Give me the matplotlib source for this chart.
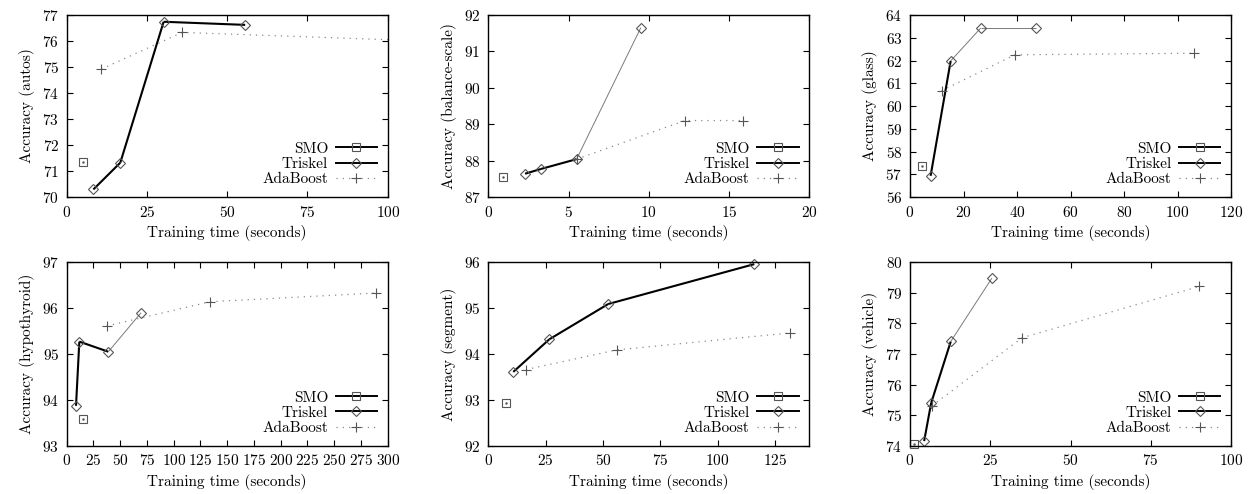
import matplotlib
matplotlib.use("Agg")
import matplotlib.pyplot as plt
from matplotlib.lines import Line2D
import numpy as np

plt.rcParams.update({
    'font.family': 'cmr10',
    'mathtext.fontset': 'cm',
    'axes.formatter.use_mathtext': True,
    'font.size': 11,
    'axes.linewidth': 1.0,
    'xtick.direction': 'in',
    'ytick.direction': 'in',
    'xtick.top': True,
    'ytick.right': True,
    'xtick.major.size': 4.5,
    'ytick.major.size': 4.5,
    'xtick.major.pad': 5.5,
    'ytick.major.pad': 5.5,
})

# dataset names
datasets = ['autos', 'balance-scale', 'glass', 'hypothyroid', 'segment', 'vehicle']

# SMO: single point (time, accuracy)
smo_time = [5.0, 0.93, 4.4, 15.5, 7.7, 1.35]
smo_acc = [71.35, 87.56, 57.37, 93.58, 92.94, 74.06]

# Triskel curves
tri_time = [
    [8.3, 16.7, 30.2, 55.6],
    [2.29, 3.28, 5.5, 9.5],
    [7.7, 15.2, 26.4, 47.0],
    [8.7, 11.8, 38.9, 69.5],
    [10.9, 26.6, 52.3, 116.0],
    [4.4, 6.6, 12.7, 25.5],
]
tri_acc = [
    [70.29, 71.32, 76.74, 76.62],
    [87.64, 87.77, 88.04, 91.65],
    [56.93, 61.98, 63.42, 63.42],
    [93.87, 95.27, 95.05, 95.90],
    [93.61, 94.32, 95.09, 95.96],
    [74.15, 75.40, 77.41, 79.48],
]
# which Triskel segments are drawn bold
tri_bold = [
    [True, True, True],
    [True, True, False],
    [True, False, False],
    [True, True, False],
    [True, True, True],
    [True, True, False],
]

# AdaBoost curves
ada_time = [
    [10.8, 36.0, 130.0],
    [5.5, 12.25, 15.85],
    [11.8, 39.2, 106.0],
    [37.4, 134.0, 289.0],
    [16.4, 56.0, 131.8],
    [6.8, 34.9, 90.1],
]
ada_acc = [
    [74.92, 76.33, 75.92],
    [88.04, 89.10, 89.10],
    [60.67, 62.25, 62.32],
    [95.61, 96.14, 96.33],
    [93.66, 94.09, 94.46],
    [75.30, 77.53, 79.21],
]

# axis ranges and ticks
xlims = [(0, 100), (0, 20), (0, 120), (0, 300), (0, 140), (0, 100)]
xsteps = [25, 5, 20, 25, 25, 25]
xticks_max = [100, 20, 120, 300, 125, 100]
ylims = [(70, 77), (87, 92), (56, 64), (93, 97), (92, 96), (74, 80)]

fig = plt.figure(figsize=(12.51, 4.94), dpi=100)
W, H = 1251.0, 494.0
lefts = [66.7, 488.3, 910.0]
rows = [(15.0, 197.0), (262.3, 445.7)]
width = 321.0

mk_col = '#555555'
thin_col = '#7a7a7a'

for i, name in enumerate(datasets):
    r, c = divmod(i, 3)
    top, bot = rows[r]
    ax = fig.add_axes([lefts[c] / W, (H - bot) / H, width / W, (bot - top) / H])
    xmax = xlims[i][1]

    # SMO
    ax.plot([smo_time[i]], [smo_acc[i]], color='black', lw=1.4, marker='s', ms=5.5,
            mfc='none', mec=mk_col, mew=0.8, clip_on=False)
    ax.plot([smo_time[i]], [smo_acc[i]], ls='none', marker='.', ms=1.5, color=mk_col,
            clip_on=False)

    # Triskel segments
    tx, ty = tri_time[i], tri_acc[i]
    for k, bold in enumerate(tri_bold[i]):
        ax.plot(tx[k:k + 2], ty[k:k + 2], color='black' if bold else thin_col,
                lw=1.5 if bold else 0.7, solid_capstyle='butt')
    ax.plot(tx, ty, ls='none', marker='D', ms=5, mfc='none', mec=mk_col, mew=0.8,
            clip_on=False)

    # AdaBoost
    ax_x = np.array(ada_time[i])
    ax_y = np.array(ada_acc[i])
    ax.plot(ax_x, ax_y, color='#8a8a8a', lw=0.9, ls=(0, (1, 4)))
    inside = ax_x <= xmax
    ax.plot(ax_x[inside], ax_y[inside], ls='none', marker='+', ms=7, mew=0.8,
            color=mk_col, clip_on=False)

    ax.set_xlim(*xlims[i])
    ax.set_ylim(*ylims[i])
    ax.set_xticks(np.arange(0, xticks_max[i] + 1, xsteps[i]))
    ax.set_yticks(np.arange(ylims[i][0], ylims[i][1] + 1, 1))
    ax.set_xlabel('Training time (seconds)', labelpad=4)
    ax.set_ylabel(f'Accuracy ({name})', labelpad=5)

    handles = [
        Line2D([], [], color='black', lw=1.4, marker='s', ms=5.5, mfc='none',
               mec=mk_col, mew=0.8),
        Line2D([], [], color='black', lw=1.4, marker='D', ms=5, mfc='none',
               mec=mk_col, mew=0.8),
        Line2D([], [], color='#8a8a8a', lw=0.9, ls=(0, (1, 4)), marker='+', ms=7,
               mew=0.8, mec=mk_col),
    ]
    ax.legend(handles, ['SMO', 'Triskel', 'AdaBoost'], loc='lower right',
              frameon=False, markerfirst=False, handlelength=2.7,
              handletextpad=0.5, labelspacing=0.1, borderaxespad=0.4,
              borderpad=0.3)

fig.savefig('out.png', dpi=100)
